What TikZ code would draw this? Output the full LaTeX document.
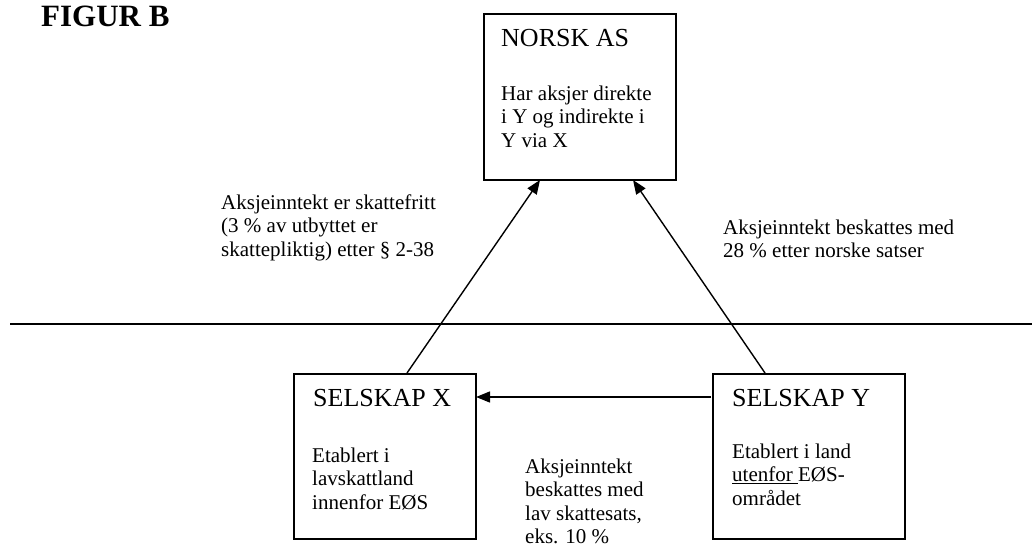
\documentclass[tikz,border=0pt]{standalone}
\usepackage{fontspec}
\setmainfont{Liberation Serif}
\usetikzlibrary{arrows.meta}
\tikzset{
  box/.style={draw, line width=1.9pt, inner sep=0pt},
  title/.style={anchor=base west, inner sep=0pt, font=\fontsize{26}{30}\selectfont},
  body/.style={anchor=north west, inner sep=0pt, align=left, font=\fontsize{21}{23.5}\selectfont},
  conn/.style={line width=1.4pt, -{Triangle[length=14pt,width=11pt]}},
}
\begin{document}
\begin{tikzpicture}[x=1pt,y=-1pt]
\useasboundingbox (0,0) rectangle (1032,548);
% boxes
\node[box, minimum width=192pt, minimum height=166pt, anchor=north west] (N) at (483,13) {};
\node[box, minimum width=182pt, minimum height=165pt, anchor=north west] (X) at (293,373) {};
\node[box, minimum width=192pt, minimum height=165pt, anchor=north west] (Y) at (712,373) {};
% texts
\node[anchor=base west, inner sep=0pt, font=\bfseries\fontsize{31}{34}\selectfont] (fig) at (41,27) {FIGUR B};
\node[title] (Nt) at (501,47) {NORSK AS};
\node[body] (Nb) at (501,100-16.45) {\strut Har aksjer direkte\\i Y og indirekte i\\Y via X};
\node[title] (Xt) at (313,406) {SELSKAP X};
\node[body] (Xb) at (312,462-16.45) {\strut Etablert i\\lavskattland\\innenfor EØS};
\node[title] (Yt) at (732,406) {SELSKAP Y};
\node[body] (Yb) at (732,458-16.45) {\strut Etablert i land\\\underline{utenfor\ }EØS-\\området};
\node[body] (La) at (221,209-16.45) {\strut Aksjeinntekt er skattefritt\\(3 \% av utbyttet er\\skattepliktig) etter § 2-38};
\node[body] (Ra) at (723,234-16.45) {\strut Aksjeinntekt beskattes med\\28 \% etter norske satser};
\node[body] (Ba) at (525,473-16.45) {\strut Aksjeinntekt\\beskattes med\\lav skattesats,\\eks. 10 \%};
% divider
\coordinate (hl) at (10,324);
\coordinate (hr) at (1032,324);
\draw[line width=1.9pt] (hl) -- (hr);
% connector end points on box edges
\coordinate (Xtop) at (407,373);
\coordinate (Ytop) at (765,373);
\coordinate (Nl) at (540,180);
\coordinate (Nr) at (633,180);
\coordinate (Yleft) at (711,397);
\coordinate (Xright) at (476,397);
\draw[conn] (Xtop) -- (Nl);
\draw[conn] (Ytop) -- (Nr);
\draw[conn] (Yleft) -- (Xright);
\end{tikzpicture}
\end{document}
